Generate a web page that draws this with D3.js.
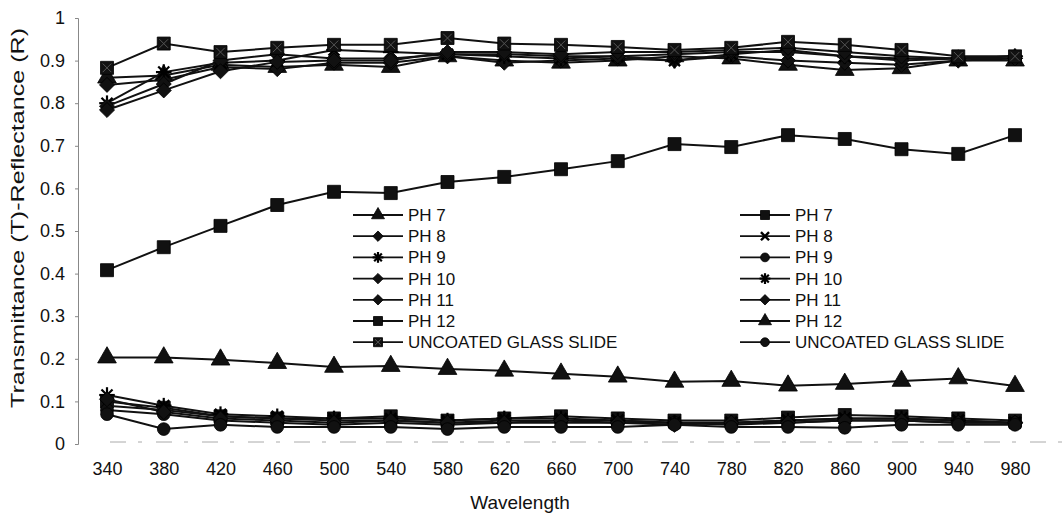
<!DOCTYPE html>
<html><head><meta charset="utf-8">
<script src="https://cdn.jsdelivr.net/npm/d3@7"></script>
<style>body{margin:0;background:#fff}svg{display:block}text{font-family:"Liberation Sans",Arial,sans-serif;fill:#111}</style>
</head><body>
<svg id="c" width="1064" height="514"></svg>
<script>
const wavelengths = [340,380,420,460,500,540,580,620,660,700,740,780,820,860,900,940,980];
const yTicks = [0,0.1,0.2,0.3,0.4,0.5,0.6,0.7,0.8,0.9,1];

// Transmittance series (left legend)
const tPH7  = [0.860,0.865,0.890,0.885,0.890,0.885,0.910,0.900,0.895,0.900,0.910,0.905,0.890,0.878,0.882,0.900,0.900];
const tPH8  = [0.843,0.855,0.885,0.880,0.895,0.895,0.910,0.895,0.900,0.905,0.900,0.910,0.900,0.895,0.890,0.900,0.905];
const tPH9  = [0.800,0.873,0.895,0.900,0.925,0.920,0.915,0.910,0.905,0.910,0.900,0.915,0.925,0.910,0.905,0.905,0.910];
const tPH10 = [0.793,0.845,0.900,0.915,0.905,0.905,0.915,0.915,0.910,0.910,0.915,0.920,0.920,0.910,0.900,0.905,0.910];
const tPH11 = [0.784,0.830,0.875,0.897,0.900,0.900,0.920,0.920,0.915,0.920,0.920,0.925,0.930,0.920,0.910,0.905,0.905];
const tPH12 = [0.408,0.462,0.512,0.561,0.592,0.589,0.615,0.627,0.645,0.664,0.704,0.697,0.725,0.716,0.692,0.681,0.725];
const tGlass= [0.883,0.940,0.920,0.930,0.937,0.937,0.953,0.940,0.937,0.932,0.925,0.930,0.944,0.937,0.925,0.910,0.910];

// Reflectance series (right legend)
const rPH7  = [0.100,0.085,0.065,0.060,0.060,0.065,0.055,0.060,0.065,0.060,0.055,0.055,0.062,0.068,0.065,0.060,0.055];
const rPH8  = [0.090,0.080,0.065,0.060,0.055,0.055,0.050,0.055,0.055,0.055,0.050,0.050,0.055,0.060,0.060,0.055,0.050];
const rPH9  = [0.080,0.070,0.055,0.050,0.045,0.050,0.045,0.050,0.050,0.050,0.050,0.045,0.050,0.055,0.055,0.050,0.050];
const rPH10 = [0.115,0.090,0.070,0.065,0.060,0.060,0.055,0.060,0.060,0.055,0.050,0.050,0.055,0.060,0.060,0.055,0.050];
const rPH11 = [0.105,0.075,0.060,0.055,0.050,0.055,0.050,0.050,0.055,0.050,0.045,0.050,0.050,0.055,0.055,0.050,0.050];
const rPH12 = [0.203,0.203,0.198,0.190,0.181,0.183,0.176,0.172,0.165,0.158,0.146,0.148,0.137,0.141,0.148,0.154,0.136];
const rGlass= [0.070,0.035,0.045,0.040,0.040,0.040,0.035,0.040,0.040,0.040,0.045,0.040,0.040,0.038,0.045,0.045,0.045];

const leftNames  = ["PH 7","PH 8","PH 9","PH 10","PH 11","PH 12","UNCOATED GLASS SLIDE"];
const rightNames = ["PH 7","PH 8","PH 9","PH 10","PH 11","PH 12","UNCOATED GLASS SLIDE"];
const leftMarkers  = ["triangle","diamond","asterisk","diamond","diamond","square","squarex"];
const rightMarkers = ["square","x","circle","asterisk","diamond","triangle","circle"];
const leftData  = [tPH7,tPH8,tPH9,tPH10,tPH11,tPH12,tGlass];
const rightData = [rPH7,rPH8,rPH9,rPH10,rPH11,rPH12,rGlass];

const svg = d3.select("#c");
const x = d3.scalePoint().domain(wavelengths).range([107,1015]);
const y = d3.scaleLinear().domain([0,1]).range([444,18]);

// axes
const ya = svg.append("g").attr("transform","translate(78,0)")
  .call(d3.axisLeft(y).tickValues(yTicks).tickSize(3).tickPadding(10).tickFormat(d=>String(+d.toFixed(1))));
ya.select(".domain").attr("stroke","#888");
ya.selectAll(".tick line").attr("stroke","#888");
ya.selectAll("text").style("font-size","18px").attr("fill","#111");

const xa = svg.append("g").attr("transform","translate(0,442)")
  .call(d3.axisBottom(x).tickSize(0).tickPadding(20));
xa.select(".domain").remove();
xa.selectAll("text").style("font-size","18px").attr("fill","#111");
svg.append("line").attr("x1",110).attr("x2",1064).attr("y1",442).attr("y2",442)
  .attr("stroke","#aaa").attr("stroke-width",1).attr("stroke-dasharray","16,12,4,14");

svg.append("text").attr("x",520).attr("y",509).attr("text-anchor","middle").style("font-size","19px").text("Wavelength");
svg.append("text").attr("transform","translate(24,218) rotate(-90)").attr("text-anchor","middle")
  .attr("textLength",380).attr("lengthAdjust","spacingAndGlyphs").style("font-size","19px").text("Transmittance (T)-Reflectance (R)");

function marker(g, type, s){
  if(type==="asterisk"){
    const r=s*0.6;
    for(let i=0;i<4;i++){const a=i*Math.PI/4;g.append("line").attr("x1",-r*Math.cos(a)).attr("y1",-r*Math.sin(a)).attr("x2",r*Math.cos(a)).attr("y2",r*Math.sin(a)).attr("stroke","#000").attr("stroke-width",2.2);}
    return;
  }
  if(type==="x"){
    const r=s*0.45;
    g.append("path").attr("d",`M${-r},${-r}L${r},${r}M${-r},${r}L${r},${-r}`).attr("stroke","#000").attr("stroke-width",2.4);
    return;
  }
  if(type==="diamond"){
    const r=s*0.58;
    g.append("path").attr("d",`M0,${-r}L${r},0L0,${r}L${-r},0Z`).attr("fill","#111").attr("stroke","#000").attr("stroke-width",0.8);
    return;
  }
  const map={triangle:d3.symbolTriangle,square:d3.symbolSquare,squarex:d3.symbolSquare,circle:d3.symbolCircle};
  const area={triangle:s*s*0.9,square:s*s,squarex:s*s,circle:s*s*0.75}[type];
  g.append("path").attr("d",d3.symbol().type(map[type]).size(area)()).attr("fill","#111").attr("stroke","#000").attr("stroke-width",0.8);
  if(type==="squarex"){const r=s*0.33;g.append("path").attr("d",`M${-r},${-r}L${r},${r}M${-r},${r}L${r},${-r}`).attr("stroke","#555").attr("stroke-width",1);}
}

const line = d3.line().x((d,i)=>x(wavelengths[i])).y(d=>y(d));
function drawSeries(vals, type){
  svg.append("path").datum(vals).attr("d",line).attr("fill","none").attr("stroke","#111").attr("stroke-width",2);
  vals.forEach((v,i)=>{const g=svg.append("g").attr("transform",`translate(${x(wavelengths[i])},${y(v)})`);marker(g,type,13);});
}
leftData.forEach((d,i)=>drawSeries(d,leftMarkers[i]));
rightData.forEach((d,i)=>drawSeries(d,rightMarkers[i]));

// legends
function legend(x0, names, markers){
  names.forEach((n,i)=>{
    const yy=215+i*21.2;
    svg.append("line").attr("x1",x0).attr("x2",x0+50).attr("y1",yy).attr("y2",yy).attr("stroke","#111").attr("stroke-width",1.8);
    const g=svg.append("g").attr("transform",`translate(${x0+25},${yy})`); marker(g,markers[i],9);
    svg.append("text").attr("x",x0+55).attr("y",yy+6).style("font-size","17px").text(n);
  });
}
legend(353,leftNames,leftMarkers);
legend(740,rightNames,rightMarkers);
</script>
</body></html>
